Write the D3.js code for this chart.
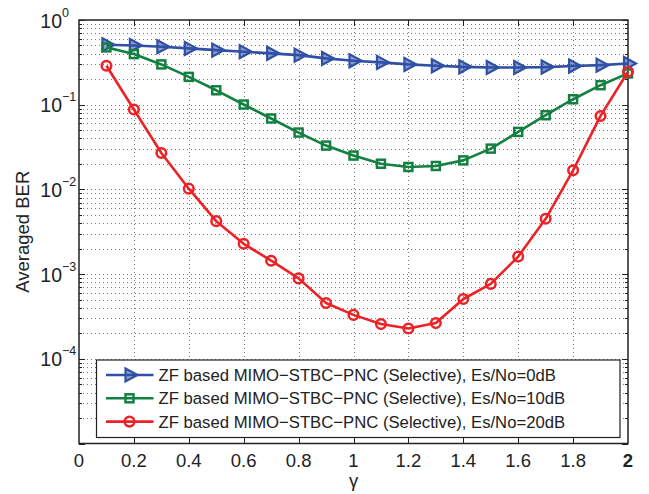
<!DOCTYPE html>
<html lang="en">
<head>
<meta charset="UTF-8" />
<title>Averaged BER vs gamma</title>
<style>
  body { margin: 0; background: #fff; }
  text { font-family: "Liberation Sans", Arial, Helvetica, sans-serif; fill: #222; }
</style>
</head>
<body>
<svg width="649" height="494"></svg>
<script src="https://d3js.org/d3.v7.min.js"></script>
<script>
// data
var gammaVals = [0.1, 0.2, 0.3, 0.4, 0.5, 0.6, 0.7, 0.8, 0.9, 1.0,
                 1.1, 1.2, 1.3, 1.4, 1.5, 1.6, 1.7, 1.8, 1.9, 2.0];
var berSnr0  = [0.51, 0.50, 0.483, 0.462, 0.441, 0.422, 0.404, 0.385, 0.352, 0.33,
                0.316, 0.299, 0.288, 0.28, 0.275, 0.275, 0.278, 0.286, 0.293, 0.307];
var berSnr10 = [0.475, 0.396, 0.299, 0.213, 0.148, 0.1005, 0.0687, 0.0469, 0.0329, 0.0251,
                0.0201, 0.0184, 0.0189, 0.022, 0.0303, 0.0477, 0.0751, 0.116, 0.170, 0.234];
var berSnr20 = [0.288, 0.0877, 0.0269, 0.0102, 0.00422, 0.00228, 0.00144, 0.00089, 0.000456, 0.00033,
                0.000257, 0.000228, 0.000264, 0.000508, 0.000766, 0.00161, 0.0045, 0.0168, 0.0737, 0.245];
var seriesNames = ["ZF based MIMO\u2212STBC\u2212PNC (Selective), Es/No=0dB",
                   "ZF based MIMO\u2212STBC\u2212PNC (Selective), Es/No=10dB",
                   "ZF based MIMO\u2212STBC\u2212PNC (Selective), Es/No=20dB"];
var xTicks = [0, 0.2, 0.4, 0.6, 0.8, 1, 1.2, 1.4, 1.6, 1.8, 2];
var yTickExps = [0, -1, -2, -3, -4];

var svg = d3.select("svg"),
    margin = {top: 20, right: 21, bottom: 50.5, left: 79},
    width = 649 - margin.left - margin.right,
    height = 494 - margin.top - margin.bottom,
    g = svg.append("g").attr("transform", "translate(" + margin.left + "," + margin.top + ")");

var x = d3.scaleLinear().domain([0, 2]).range([0, width]);
var y = d3.scaleLog().domain([1e-5, 1]).range([height, 0]);

var colors = ["#2f50a6", "#138042", "#ec2227"];
var series = [berSnr0, berSnr10, berSnr20].map(function(vals, i) {
    return {name: seriesNames[i], color: colors[i], shape: i,
            values: gammaVals.map(function(gm, j) { return {x: gm, y: vals[j]}; })};
});

// minor + major log positions
var logTicks = [];
for (var e = -5; e < 0; e++) {
    for (var m = 1; m < 10; m++) logTicks.push(m * Math.pow(10, e));
}
logTicks.push(1);

// grid
var grid = g.append("g").attr("stroke", "#444").attr("stroke-width", 1)
    .attr("stroke-dasharray", "1,3").attr("opacity", 0.7);
grid.selectAll("line.h").data(logTicks.filter(function(v) { return v > 1e-5 && v < 1; }))
    .enter().append("line")
    .attr("x1", 0).attr("x2", width)
    .attr("y1", function(d) { return Math.round(y(d)) + 0.5; })
    .attr("y2", function(d) { return Math.round(y(d)) + 0.5; });
grid.selectAll("line.v").data(xTicks.slice(1, -1))
    .enter().append("line")
    .attr("y1", 0).attr("y2", height)
    .attr("x1", function(d) { return Math.round(x(d)) + 0.5; })
    .attr("x2", function(d) { return Math.round(x(d)) + 0.5; });

// axes ticks (inward, all four sides)
var ticksG = g.append("g").attr("stroke", "#222").attr("stroke-width", 1);
xTicks.slice(1, -1).forEach(function(t) {
    var px = Math.round(x(t)) + 0.5;
    ticksG.append("line").attr("x1", px).attr("x2", px).attr("y1", height).attr("y2", height - 6);
    ticksG.append("line").attr("x1", px).attr("x2", px).attr("y1", 0).attr("y2", 6);
});
logTicks.forEach(function(v) {
    var py = Math.round(y(v)) + 0.5;
    var major = Math.abs(Math.log10(v) - Math.round(Math.log10(v))) < 1e-9;
    var len = major ? 6 : 3;
    ticksG.append("line").attr("x1", 0).attr("x2", len).attr("y1", py).attr("y2", py);
    ticksG.append("line").attr("x1", width).attr("x2", width - len).attr("y1", py).attr("y2", py);
});

// frame
g.append("rect").attr("x", 0).attr("y", 0).attr("width", width).attr("height", height)
    .attr("fill", "none").attr("stroke", "#222").attr("stroke-width", 1.5);

// x tick labels
g.append("g").selectAll("text").data(xTicks).enter().append("text")
    .attr("x", function(d) { return x(d); })
    .attr("y", height + 23.5)
    .attr("text-anchor", "middle")
    .style("font-size", "18.5px")
    .style("font-weight", function(d) { return d === 2 ? "bold" : "normal"; })
    .text(function(d) { return d3.format("")(d); });

// y tick labels 10^n
var yl = g.append("g").selectAll("g").data(yTickExps).enter().append("g")
    .attr("transform", function(d) { return "translate(-17," + y(Math.pow(10, d)) + ")"; });
yl.append("text").attr("x", 0).attr("y", 7.5).attr("text-anchor", "end")
    .style("font-size", "19.5px").text("10");
yl.append("text").attr("x", 0).attr("y", -3.5).attr("text-anchor", "start")
    .style("font-size", "12.5px")
    .text(function(d) { return d === 0 ? "0" : "\u2212" + Math.abs(d); });

// axis titles
g.append("text")
    .attr("x", width / 2).attr("y", height + 43)
    .attr("text-anchor", "middle")
    .style("font-size", "18.5px")
    .text("\u03b3");
g.append("text")
    .attr("transform", "translate(" + (-50) + "," + (height / 2) + ") rotate(-90)")
    .attr("text-anchor", "middle")
    .style("font-size", "18.5px")
    .text("Averaged BER");

// markers
function drawMarker(sel, shape, color) {
    if (shape === 0) {
        sel.append("path").attr("d", "M-4,-6.5L8,0L-4,6.5Z")
            .attr("fill", color).attr("fill-opacity", 0.55)
            .attr("stroke", color).attr("stroke-width", 2.2).attr("stroke-linejoin", "miter");
    } else if (shape === 1) {
        sel.append("rect").attr("x", -4).attr("y", -4).attr("width", 8).attr("height", 8)
            .attr("fill", "none").attr("stroke", color).attr("stroke-width", 2.5);
    } else {
        sel.append("circle").attr("r", 4.8)
            .attr("fill", "none").attr("stroke", color).attr("stroke-width", 2.5);
    }
}

var line = d3.line()
    .x(function(d) { return x(d.x); })
    .y(function(d) { return y(d.y); });

series.forEach(function(s) {
    var sg = g.append("g");
    sg.append("path").datum(s.values)
        .attr("fill", "none").attr("stroke", s.color).attr("stroke-width", 2.6)
        .attr("stroke-linejoin", "round")
        .attr("d", line);
    sg.selectAll("g").data(s.values).enter().append("g")
        .attr("transform", function(d) { return "translate(" + x(d.x) + "," + y(d.y) + ")"; })
        .each(function() { drawMarker(d3.select(this), s.shape, s.color); });
});

// legend
var legend = g.append("g").attr("transform", "translate(" + (96.5 - margin.left) + "," + (360 - margin.top) + ")");
legend.append("rect").attr("x", 0).attr("y", 0).attr("width", 523.5).attr("height", 77.5)
    .attr("fill", "#fff").attr("stroke", "#222").attr("stroke-width", 1.2);
var rows = legend.selectAll("g.row").data(series).enter().append("g")
    .attr("transform", function(d, i) { return "translate(0," + (15 + i * 23.3) + ")"; });
rows.append("line").attr("x1", 9.5).attr("x2", 57)
    .attr("stroke", function(d) { return d.color; }).attr("stroke-width", 2.6);
rows.append("g").attr("transform", "translate(33,0)")
    .each(function(d) { drawMarker(d3.select(this), d.shape, d.color); });
rows.append("text").attr("x", 62).attr("y", 6)
    .style("font-size", "16.7px")
    .text(function(d) { return d.name; });
</script>
</body>
</html>
